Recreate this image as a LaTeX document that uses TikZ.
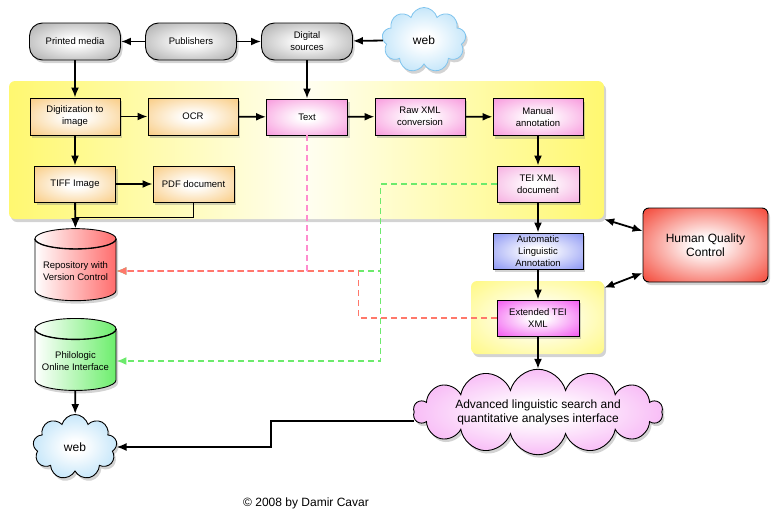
\documentclass[tikz,border=0pt]{standalone}
\usepackage{fontspec}
\setmainfont{Liberation Sans}
\usepackage{tikz}
\usetikzlibrary{shapes.geometric, shapes.symbols, arrows.meta, shadows, calc}
\definecolor{pillgrey}{HTML}{9C9C9C}
\definecolor{orangeout}{HTML}{F8C470}
\definecolor{pinkout}{HTML}{F78AD8}
\definecolor{teiout}{HTML}{F5A2DC}
\definecolor{blueout}{HTML}{7A86F2}
\definecolor{magout}{HTML}{F03EEE}
\definecolor{panelyellow}{HTML}{FFF870}
\definecolor{hqcred}{HTML}{F22A18}
\definecolor{advpink}{HTML}{F38CF0}
\definecolor{webblue}{HTML}{9DD5F6}
\definecolor{webline}{HTML}{7FC4EE}
\definecolor{repored}{HTML}{FF6C6C}
\definecolor{philogreen}{HTML}{6CEE6C}
\definecolor{dashpink}{HTML}{FF8CCF}
\definecolor{dashred}{HTML}{FF786A}
\definecolor{dashgreen}{HTML}{6CEA6C}
\colorlet{boxout}{white}
\pgfdeclareradialshading[boxout]{boxshade}{\pgfpoint{0bp}{0bp}}{color(0bp)=(white); color(5bp)=(white); color(40bp)=(boxout); color(50bp)=(boxout)}
\tikzset{boxtint/.style={shading=boxshade, /utils/exec={\colorlet{boxout}{#1}}}}
\tikzstyle{shade} = [drop shadow={opacity=0.35,shadow xshift=2pt,shadow yshift=-3pt}]
\tikzstyle{box} = [rectangle, draw, line width=0.9pt, inner sep=1pt, align=center, font=\fontsize{9.5}{12}\selectfont, shade]
\tikzstyle{pill} = [box, rounded corners=13pt, minimum width=91pt, minimum height=37pt, boxtint=pillgrey]
\tikzstyle{orangebox} = [box, minimum width=90pt, minimum height=37pt, boxtint=orangeout]
\tikzstyle{pinkbox} = [box, minimum width=90pt, minimum height=37pt, boxtint=pinkout]
\tikzstyle{panel} = [rectangle, rounded corners=6pt, shade]
\tikzstyle{cyl} = [cylinder, shape border rotate=90, aspect=0.3, draw, line width=0.9pt, minimum width=81pt, minimum height=72pt, inner sep=1pt, align=center, font=\fontsize{9.5}{12}\selectfont, shade]
\tikzstyle{webcloud} = [cloud, cloud puffs=9, cloud ignores aspect, minimum width=84pt, minimum height=65pt, boxtint=webblue, font=\fontsize{12}{14}\selectfont, shade]
\tikzstyle{arrow} = [line width=1.8pt, -{Latex[length=10pt,width=8pt]}]
\tikzstyle{both} = [line width=1.8pt, {Latex[length=10pt,width=8pt]}-{Latex[length=10pt,width=8pt]}]
\tikzstyle{dashline} = [line width=1.5pt, dash pattern=on 6pt off 4pt, -{Latex[length=10pt,width=8pt]}]

\begin{document}
\begin{tikzpicture}[x=1pt, y=-1pt]
\useasboundingbox (0,0) rectangle (779,514);
% background panels
\node[panel, minimum width=595pt, minimum height=138pt, left color=panelyellow, right color=panelyellow, middle color=white!90!panelyellow] (digipanel) at (306.5,150) {};
\node[panel, minimum width=133pt, minimum height=73pt, boxtint=panelyellow] (extpanel) at (537.5,317.5) {};

% sources
\node[pill] (printed) at (75,41.5) {Printed media};
\node[pill] (publishers) at (191,41.5) {Publishers};
\node[pill] (digital) at (307,41.5) {Digital\\sources};
\node[webcloud, draw=webline, line width=0.8pt] (webtop) at (424,40) {web};

% digitization chain
\node[orangebox] (digit) at (75,116.5) {Digitization to\\image};
\node[orangebox] (ocr) at (193,116.5) {OCR};
\node[pinkbox, minimum width=81pt, minimum height=36pt] (text) at (307,117) {Text};
\node[pinkbox] (rawxml) at (420,116.5) {Raw XML\\conversion};
\node[pinkbox] (manual) at (538,117) {Manual\\annotation};
\node[orangebox, minimum width=81pt, minimum height=36pt] (tiff) at (75,184) {TIFF Image};
\node[orangebox, minimum width=81pt, minimum height=36pt] (pdf) at (193.5,184) {PDF document};
\node[box, minimum width=82pt, minimum height=36pt, boxtint=teiout] (tei) at (538,184) {TEI XML\\document};
\node[box, minimum width=90pt, minimum height=36pt, boxtint=blueout] (auto) at (538,251) {Automatic\\Linguistic\\Annotation};
\node[box, minimum width=82pt, minimum height=36pt, boxtint=magout] (ext) at (538,318) {Extended TEI\\XML};
\node[box, rounded corners=6pt, minimum width=125pt, minimum height=74pt, boxtint=hqcred, font=\fontsize{12}{14}\selectfont] (hqc) at (705.5,245) {Human Quality\\Control};

% outputs
\node[cyl, left color=white, right color=repored] (repo) at (75.5,271) {Repository with\\Version Control};
\node[cyl, left color=white, right color=philogreen] (philo) at (75.5,361) {Philologic\\Online Interface};
\foreach \c in {repo,philo}
  \draw[line width=0.9pt] let \p1=(\c.before top), \p2=(\c.top), \p3=(\c.after top) in
    (\p1) arc[start angle=0, end angle=-180, x radius={(\x1-\x3)/2}, y radius={\y2-\y1}];
\node[webcloud, draw, line width=0.9pt] (webbottom) at (75,447) {web};
\node[cloud, cloud puffs=14, cloud ignores aspect, draw, line width=0.9pt, minimum width=249pt, minimum height=77pt, boxtint=advpink, align=center, font=\fontsize{12}{14}\selectfont, shade] (adv) at (538,412) {Advanced linguistic search and\\quantitative analyses interface};
\node[font=\fontsize{12}{14}\selectfont] (copy) at (306,503) {© 2008 by Damir Cavar};

% connectors
\draw[arrow] (publishers) -- (printed);
\draw[arrow] (publishers) -- (digital);
\draw[arrow] (webtop) -- (digital);
\draw[arrow] (printed) -- (digit);
\draw[arrow] (digital) -- (text);
\draw[arrow] (digit) -- (ocr);
\draw[arrow] (ocr) -- (text);
\draw[arrow] (text) -- (rawxml);
\draw[arrow] (rawxml) -- (manual);
\draw[arrow] (manual) -- (tei);
\draw[arrow] (tei) -- (auto);
\draw[arrow] (auto) -- (ext);
\draw[arrow] (ext) -- (adv);
\draw[arrow] (digit) -- (tiff);
\draw[arrow] (tiff) -- (pdf);
\draw[arrow] (tiff) -- (repo);
\draw[arrow] (pdf.south) -- ++(0,15) -| (repo.north);
\draw[arrow] (philo) -- (webbottom);
\draw[arrow] ([yshift=-9pt]adv.west) -- ++(-143,0) |- (webbottom.east);
\draw[both] (digipanel.south east) -- ([yshift=14pt]hqc.west);
\draw[both] ([yshift=-7pt]extpanel.north east) -- ([yshift=-28pt]hqc.west);

% dashed flows
\draw[dashline, dashpink] (text.south) |- (repo.east);
\draw[dashline, dashgreen] (tei.west) -- ++(-116,0) |- (philo.east);
\draw[dashline, dashgreen] (tei.west) -- ++(-116,0) |- (repo.east);
\draw[dashline, dashred] (ext.west) -- ++(-138,0) |- (repo.east);
\end{tikzpicture}
\end{document}
